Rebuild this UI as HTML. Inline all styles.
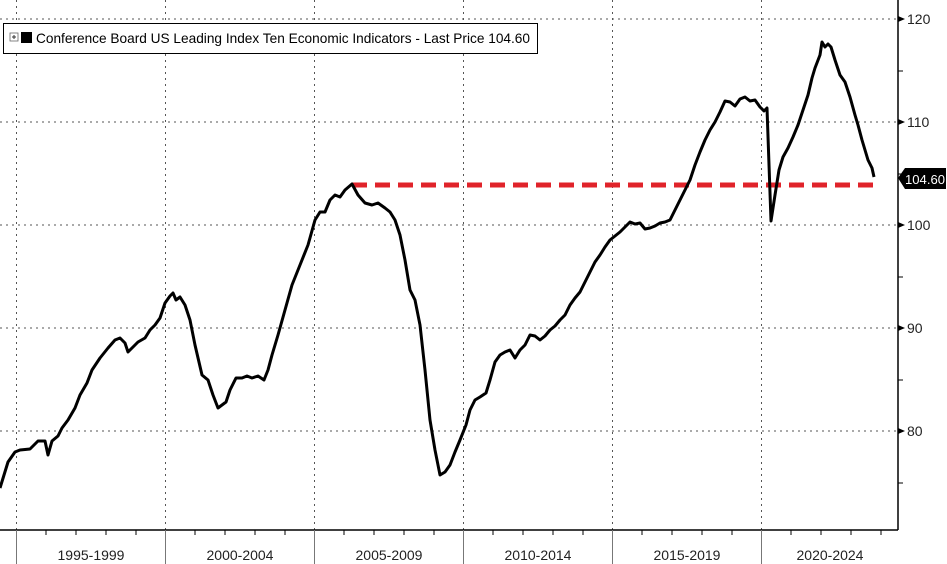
<!DOCTYPE html>
<html><head><style>
body{margin:0;background:#fff;}
svg{display:block;font-family:"Liberation Sans",sans-serif;}
</style></head><body>
<svg width="947" height="564" viewBox="0 0 947 564">
<rect width="947" height="564" fill="#fff"/>
<g stroke="#555" stroke-width="1" stroke-dasharray="2,4">
<line x1="0" y1="19" x2="897" y2="19"/>
<line x1="0" y1="122" x2="897" y2="122"/>
<line x1="0" y1="225" x2="897" y2="225"/>
<line x1="0" y1="328" x2="897" y2="328"/>
<line x1="0" y1="431" x2="897" y2="431"/>
<line x1="16.5" y1="0" x2="16.5" y2="530"/>
<line x1="165.5" y1="0" x2="165.5" y2="530"/>
<line x1="314.5" y1="0" x2="314.5" y2="530"/>
<line x1="463.5" y1="0" x2="463.5" y2="530"/>
<line x1="612.5" y1="0" x2="612.5" y2="530"/>
<line x1="761.5" y1="0" x2="761.5" y2="530"/>
</g>
<line x1="0" y1="530" x2="898" y2="530" stroke="#000" stroke-width="1.5"/>
<line x1="898" y1="0" x2="898" y2="530" stroke="#000" stroke-width="1.5"/>
<g stroke="#777" stroke-width="1">
<line x1="16.5" y1="530" x2="16.5" y2="564"/><line x1="165.5" y1="530" x2="165.5" y2="564"/>
<line x1="314.5" y1="530" x2="314.5" y2="564"/><line x1="463.5" y1="530" x2="463.5" y2="564"/>
<line x1="612.5" y1="530" x2="612.5" y2="564"/><line x1="761.5" y1="530" x2="761.5" y2="564"/>
</g>
<g stroke="#000" stroke-width="1">
<line x1="46" y1="530" x2="46" y2="535"/><line x1="76" y1="530" x2="76" y2="535"/><line x1="106" y1="530" x2="106" y2="535"/><line x1="136" y1="530" x2="136" y2="535"/>
<line x1="195" y1="530" x2="195" y2="535"/><line x1="225" y1="530" x2="225" y2="535"/><line x1="255" y1="530" x2="255" y2="535"/><line x1="285" y1="530" x2="285" y2="535"/>
<line x1="344" y1="530" x2="344" y2="535"/><line x1="374" y1="530" x2="374" y2="535"/><line x1="404" y1="530" x2="404" y2="535"/><line x1="434" y1="530" x2="434" y2="535"/>
<line x1="493" y1="530" x2="493" y2="535"/><line x1="523" y1="530" x2="523" y2="535"/><line x1="553" y1="530" x2="553" y2="535"/><line x1="583" y1="530" x2="583" y2="535"/>
<line x1="642" y1="530" x2="642" y2="535"/><line x1="672" y1="530" x2="672" y2="535"/><line x1="702" y1="530" x2="702" y2="535"/><line x1="732" y1="530" x2="732" y2="535"/>
<line x1="791" y1="530" x2="791" y2="535"/><line x1="821" y1="530" x2="821" y2="535"/><line x1="851" y1="530" x2="851" y2="535"/><line x1="881" y1="530" x2="881" y2="535"/>
<line x1="898" y1="71" x2="903" y2="71"/><line x1="898" y1="174" x2="903" y2="174"/><line x1="898" y1="277" x2="903" y2="277"/><line x1="898" y1="380" x2="903" y2="380"/><line x1="898" y1="483" x2="903" y2="483"/>
</g>
<g fill="#000">
<polygon points="898,16 905,19 898,22"/><polygon points="898,119 905,122 898,125"/><polygon points="898,222 905,225 898,228"/><polygon points="898,325 905,328 898,331"/><polygon points="898,428 905,431 898,434"/>
</g>
<g font-size="14" fill="#222">
<text x="907" y="24">120</text><text x="907" y="127">110</text><text x="907" y="230">100</text><text x="907" y="333">90</text><text x="907" y="436">80</text>
</g>
<g font-size="14" fill="#222" text-anchor="middle">
<text x="91" y="560">1995-1999</text><text x="240" y="560">2000-2004</text><text x="389" y="560">2005-2009</text>
<text x="538" y="560">2010-2014</text><text x="687" y="560">2015-2019</text><text x="830" y="560">2020-2024</text>
</g>
<line x1="352" y1="185" x2="876" y2="185" stroke="#e0232a" stroke-width="5" stroke-dasharray="15,8"/>
<polyline fill="none" stroke="#000" stroke-width="3" stroke-linejoin="round" points="0,488 8,462 15,452 20,450 30,449 38,441 45,441 48,455 52,441 58,436 62,428 68,420 75,408 80,395 87,383 92,370 100,358 108,348 115,340 120,338 125,343 128,352 132,348 138,342 145,338 150,330 155,325 160,318 165,303 170,296 173,293 176,300 180,297 185,305 190,320 195,345 202,375 208,380 213,395 218,408 222,405 226,402 230,390 236,378 242,378 247,376 252,378 258,376 264,380 268,370 272,355 278,335 285,310 292,285 300,265 308,245 315,220 320,212 325,212 330,200 335,195 340,197 345,190 352,184 358,195 365,203 372,205 378,203 385,208 390,212 395,220 400,235 405,260 410,290 415,300 420,325 425,370 430,420 435,450 440,475 445,472 450,465 455,452 460,440 466,425 470,410 475,400 480,397 486,393 490,380 495,362 500,355 505,352 510,350 515,358 520,350 525,345 530,335 535,336 540,340 545,336 550,330 555,326 560,320 565,315 570,305 575,298 580,292 585,282 590,272 595,262 600,255 605,247 610,240 615,236 620,232 625,227 630,222 635,224 640,223 645,229 650,228 655,226 660,223 665,222 670,220 675,210 680,200 685,190 690,180 695,165 700,152 705,140 710,130 715,122 720,112 725,101 730,102 735,106 740,99 745,97 750,101 755,100 760,107 764,111 767,108 771,221 775,195 779,170 783,157 788,148 793,137 798,125 803,110 808,95 812,78 815,68 820,55 822,42 825,47 828,44 831,47 835,60 840,75 845,82 850,97 855,115 858,125 862,140 865,150 868,160 872,168 874,177"/>
<polygon points="898,178 905,168 946,168 946,189 905,189" fill="#000"/>
<text x="905" y="184" font-size="13" fill="#fff" textLength="40" lengthAdjust="spacingAndGlyphs">104.60</text>
<rect x="3.5" y="23.5" width="534" height="30" fill="#fff" stroke="#000" stroke-width="1"/>
<rect x="10" y="33" width="8" height="8" fill="#fff" stroke="#666" stroke-width="0.8"/>
<line x1="12" y1="37" x2="16" y2="37" stroke="#333"/><line x1="14" y1="35" x2="14" y2="39" stroke="#333"/>
<rect x="21" y="32" width="11" height="11" fill="#000"/>
<text x="36" y="43" font-size="14" fill="#000" textLength="494" lengthAdjust="spacingAndGlyphs">Conference Board US Leading Index Ten Economic Indicators - Last Price 104.60</text>
</svg>
</body></html>
